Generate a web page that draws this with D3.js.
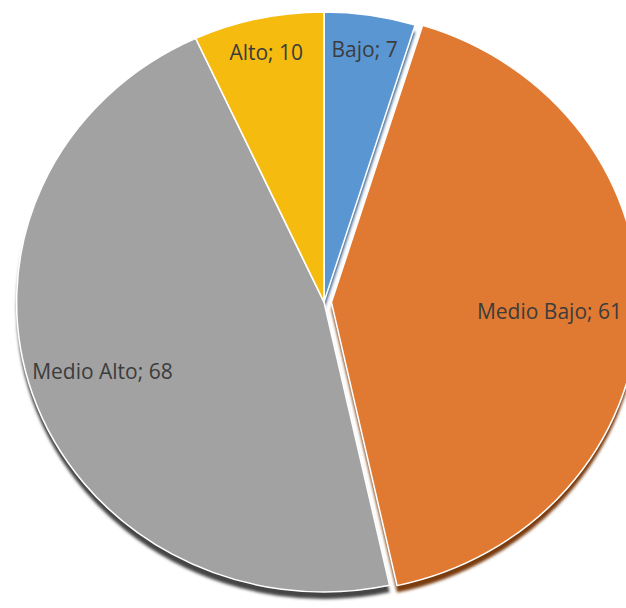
<!DOCTYPE html>
<html>
<head>
<meta charset="utf-8">
<script src="https://cdn.jsdelivr.net/npm/d3@7"></script>
<style>
  html, body { margin: 0; padding: 0; background: #ffffff; }
  svg { display: block; }
</style>
</head>
<body>
<svg id="chart" width="626" height="608"></svg>
<script>
// Data
const categories = ["Bajo", "Medio Bajo", "Medio Alto", "Alto"];
const values = [7, 61, 68, 10];
const colors = ["#5A97D2", "#E07A32", "#A2A2A2", "#F5BB0F"];
const shadowColors = ["#2E5A85", "#7A3A10", "#444444", "#8A6A08"];
const exploded = [false, true, false, false];

// Layout
const W = 626, H = 608;
const cx = 324, cy = 302;
const r = 290;
const sx = 1.06;          // slight horizontal stretch of the pie
const explodeDist = 7;
const labelRadius = [0.88, 0.71, 0.76, 0.88]; // fraction of radius for each label

const svg = d3.select("#chart");
const defs = svg.append("defs");
const blur = defs.append("filter").attr("id", "blur")
  .attr("x", "-10%").attr("y", "-10%").attr("width", "120%").attr("height", "120%");
blur.append("feGaussianBlur").attr("stdDeviation", 1.5);

const data = categories.map((c, i) => ({ i, cat: c, value: values[i], color: colors[i], shadow: shadowColors[i], exploded: exploded[i] }));

const pie = d3.pie().value(d => d.value).sort(null);
const arcs = pie(data);
const arc = d3.arc().innerRadius(0).outerRadius(r);

function offset(d) {
  if (!d.data.exploded) return [0, 0];
  const a = (d.startAngle + d.endAngle) / 2;
  return [Math.sin(a) * explodeDist, -Math.cos(a) * explodeDist];
}

const root = svg.append("g").attr("transform", `translate(${cx},${cy}) scale(${sx},1)`);

// shadow layer
root.append("g").attr("filter", "url(#blur)")
  .selectAll("path").data(arcs).join("path")
  .attr("transform", d => { const o = offset(d); return `translate(${o[0]},${o[1] + 7})`; })
  .attr("d", arc)
  .attr("fill", d => d.data.shadow);

// slices
root.append("g")
  .selectAll("path").data(arcs).join("path")
  .attr("transform", d => { const o = offset(d); return `translate(${o[0]},${o[1]})`; })
  .attr("d", arc)
  .attr("fill", d => d.data.color)
  .attr("stroke", "#ffffff")
  .attr("stroke-width", 1.5)
  .attr("stroke-linejoin", "round");

// labels
const fs = 21;
function labelPos(d) {
  const a = (d.startAngle + d.endAngle) / 2;
  const k = labelRadius[d.data.i];
  const o = offset(d);
  return [cx + sx * (Math.sin(a) * k * r + o[0]), cy - Math.cos(a) * k * r + o[1]];
}
svg.append("g")
  .selectAll("text").data(arcs).join("text")
  .attr("x", d => labelPos(d)[0])
  .attr("y", d => labelPos(d)[1] + fs * 0.357)
  .attr("text-anchor", "middle")
  .attr("font-family", "'Open Sans', sans-serif")
  .attr("font-size", fs)
  .attr("fill", "#3c3c3c")
  .text(d => `${d.data.cat}; ${d.data.value}`);
</script>
</body>
</html>
